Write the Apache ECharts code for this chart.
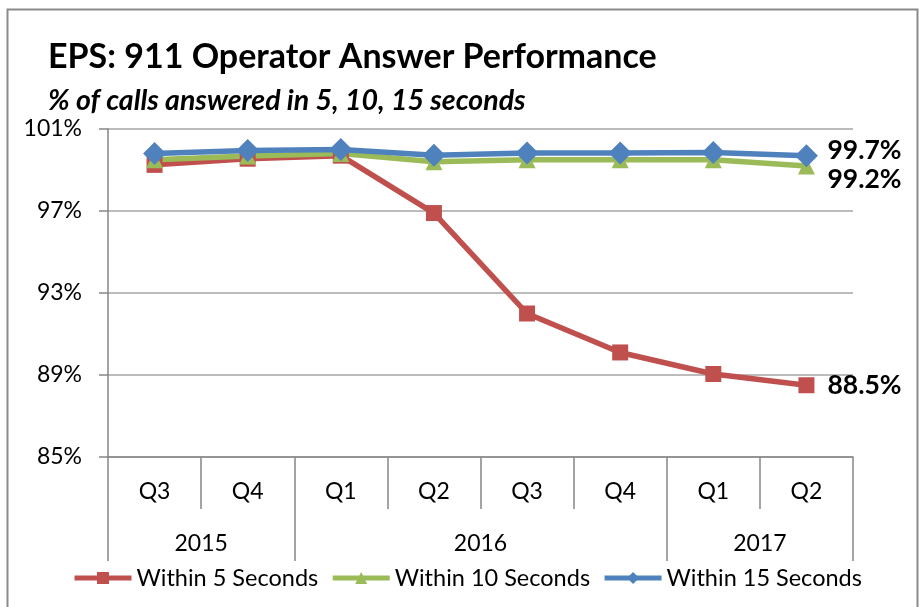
<!DOCTYPE html>
<html>
<head>
<meta charset="utf-8">
<script src="https://cdn.jsdelivr.net/npm/echarts@6/dist/echarts.min.js"></script>
<style>
  html, body { margin: 0; padding: 0; background: #fff; }
  #chart { width: 919px; height: 607px; }
</style>
</head>
<body>
<div id="chart"></div>
<script>
  // data
  var quarters = ['Q3', 'Q4', 'Q1', 'Q2', 'Q3', 'Q4', 'Q1', 'Q2'];
  var years = ['2015', '2016', '2017'];
  var yearSpans = [2, 4, 2];
  var within5 = [99.25, 99.55, 99.7, 96.9, 92.0, 90.1, 89.05, 88.5];
  var within10 = [99.5, 99.68, 99.8, 99.4, 99.5, 99.5, 99.5, 99.2];
  var within15 = [99.8, 99.95, 100.0, 99.72, 99.83, 99.83, 99.85, 99.7];
  var yTicks = [85, 89, 93, 97, 101];

  var font = 'Lato';
  var gray = '#868686';

  // year band boundaries and centres on a 0..8 value axis
  var yearEdges = [0], yearCenters = [];
  for (var i = 0; i < yearSpans.length; i++) {
    yearCenters.push(yearEdges[i] + yearSpans[i] / 2);
    yearEdges.push(yearEdges[i] + yearSpans[i]);
  }

  var myChart = echarts.init(document.getElementById('chart'));

  function endLabel(dy) {
    return {
      show: true,
      distance: 21,
      offset: [0, dy],
      fontFamily: font,
      fontWeight: 'bold',
      fontSize: 26.5,
      color: '#000',
      formatter: function (p) { return p.value.toFixed(1) + '%'; }
    };
  }

  var option = {
    animation: false,
    backgroundColor: '#fff',
    title: [{
      text: 'EPS: 911 Operator Answer Performance',
      left: 43,
      top: 35,
      textStyle: { fontFamily: font, fontWeight: 'bold', fontSize: 34, color: '#000' }
    }, {
      text: '% of calls answered in 5, 10, 15 seconds',
      left: 43,
      top: 81,
      textStyle: { fontFamily: font, fontWeight: 'bold', fontStyle: 'italic', fontSize: 28.5, color: '#000' }
    }],
    graphic: [{
      type: 'rect',
      shape: { x: 7.5, y: 9.5, width: 910, height: 610 },
      style: { fill: null, stroke: '#8a8a8a', lineWidth: 2 },
      silent: true
    }],
    legend: {
      top: 561,
      left: 67,
      itemWidth: 57,
      itemHeight: 15,
      itemGap: 12,
      lineStyle: { width: 5 },
      textStyle: { fontFamily: font, fontSize: 23.5, color: '#000' },
      data: ['Within 5 Seconds', 'Within 10 Seconds', 'Within 15 Seconds']
    },
    grid: { left: 108, right: 66, top: 129, bottom: 150 },
    xAxis: [{
      type: 'category',
      data: quarters,
      position: 'bottom',
      axisLine: { lineStyle: { color: gray, width: 1.5 } },
      axisTick: { show: true, interval: 0, length: 52, lineStyle: { color: gray, width: 1.5 } },
      axisLabel: { interval: 0, margin: 23, fontFamily: font, fontSize: 23, color: '#000' }
    }, {
      type: 'value',
      min: 0,
      max: 8,
      position: 'bottom',
      offset: 52,
      axisLine: { show: false },
      splitLine: { show: false },
      axisTick: { show: true, length: 52, customValues: yearEdges, lineStyle: { color: gray, width: 1.5 } },
      axisLabel: {
        customValues: yearCenters,
        margin: 23,
        fontFamily: font,
        fontSize: 23,
        color: '#000',
        formatter: function (v) { return years[yearCenters.indexOf(v)]; }
      }
    }],
    yAxis: {
      type: 'value',
      min: yTicks[0],
      max: yTicks[yTicks.length - 1],
      interval: 4,
      axisLine: { show: true, lineStyle: { color: gray, width: 1.5 } },
      axisTick: { show: true, length: 9, lineStyle: { color: gray, width: 1.5 } },
      splitLine: { lineStyle: { color: '#a6a6a6', width: 1.5 } },
      axisLabel: { margin: 26, fontFamily: font, fontSize: 23, color: '#000', formatter: '{value}%' }
    },
    series: [{
      name: 'Within 5 Seconds',
      type: 'line',
      data: within5,
      symbol: 'rect',
      symbolSize: 16,
      lineStyle: { color: '#c0504d', width: 5.5 },
      itemStyle: { color: '#c0504d' },
      endLabel: endLabel(0)
    }, {
      name: 'Within 10 Seconds',
      type: 'line',
      data: within10,
      symbol: 'triangle',
      symbolSize: 17,
      lineStyle: { color: '#9bbb59', width: 5.5 },
      itemStyle: { color: '#9bbb59' },
      endLabel: endLabel(14)
    }, {
      name: 'Within 15 Seconds',
      type: 'line',
      data: within15,
      symbol: 'diamond',
      symbolSize: 23,
      lineStyle: { color: '#4f81bd', width: 5.5 },
      itemStyle: { color: '#4f81bd' },
      endLabel: endLabel(-5)
    }]
  };

  myChart.setOption(option);
</script>
</body>
</html>
